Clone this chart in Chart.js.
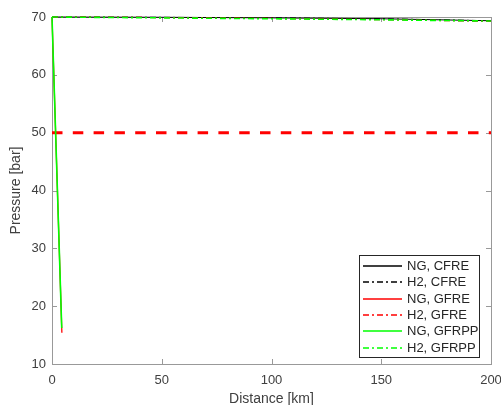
<!DOCTYPE html>
<html>
<head>
<meta charset="utf-8">
<script src="https://cdn.jsdelivr.net/npm/chart.js@4"></script>
<style>
  html,body{margin:0;padding:0;background:#fff;}
  #wrap{position:relative;width:501px;height:405px;}
</style>
</head>
<body>
<div id="wrap"><canvas id="c" width="501" height="405"></canvas></div>
<script>
/* Pressure along the pipeline for NG / H2 under three refuelling schemes */

// distance samples [km]
var distFull=[0,50,100,150,200];
var distNgGfre=[0,4.5];
var distNgGfrpp=[0,4.43];

// pressure [bar]
var pNgCfre=[70,69.95,69.85,69.7,69.35];
var pH2Cfre=[70,69.95,69.85,69.7,69.35];
var pNgGfre=[70,15.4];
var pH2Gfre=[70,69.9,69.75,69.55,69.25];
var pNgGfrpp=[70,16.2];
var pH2Gfrpp=[70,69.85,69.7,69.52,69.3];

// minimum delivery pressure
var minDist=[0,200];
var minPressure=[50,50];

var xTicks=[0,50,100,150,200];
var yTicks=[10,20,30,40,50,60,70];

var SERIES=[
  {label:'NG, CFRE',  x:distFull,   y:pNgCfre,  color:'#000000',dash:[],        w:1},
  {label:'H2, CFRE',  x:distFull,   y:pH2Cfre,  color:'#000000',dash:[6,3,2,3], w:1},
  {label:'NG, GFRE',  x:distNgGfre, y:pNgGfre,  color:'#ff0000',dash:[],        w:1.3},
  {label:'H2, GFRE',  x:distFull,   y:pH2Gfre,  color:'#ff0000',dash:[6,3,2,3], w:1.2},
  {label:'NG, GFRPP', x:distNgGfrpp,y:pNgGfrpp, color:'#00ff00',dash:[],        w:1.6},
  {label:'H2, GFRPP', x:distFull,   y:pH2Gfrpp, color:'#00ff00',dash:[6,3,2,3], w:1.6}
];

function pts(xs,ys){ return xs.map(function(x,i){ return {x:x,y:ys[i]}; }); }

var datasets=SERIES.map(function(s,i){
  return {
    label:s.label,
    data:pts(s.x,s.y),
    borderColor:s.color,
    borderWidth:s.w,
    borderDash:s.dash,
    pointRadius:0,
    fill:false,
    tension:0,
    clip:4,
    order:SERIES.length-i   // later series on top
  };
});
datasets.push({
  label:'min',
  data:pts(minDist,minPressure),
  borderColor:'#ff0000',
  borderWidth:3,
  borderDash:[10.5,10.3],
  pointRadius:0,
  fill:false,
  clip:4,
  order:20
});

var AXIS='#999999', TXT='#404040';
var FONT='"Liberation Sans", Arial, Helvetica, sans-serif';

// box + inward ticks on all four sides
var frame={
  id:'frame',
  beforeDatasetsDraw:function(chart){
    var a=chart.chartArea, ctx=chart.ctx, xs=chart.scales.x, ys=chart.scales.y, tl=5;
    ctx.save();
    ctx.strokeStyle=AXIS; ctx.lineWidth=1;
    ctx.strokeRect(Math.round(a.left)+0.5,Math.round(a.top)+0.5,Math.round(a.right-a.left),Math.round(a.bottom-a.top));
    ctx.beginPath();
    xTicks.forEach(function(v){
      var px=Math.round(xs.getPixelForValue(v))+0.5;
      ctx.moveTo(px,a.bottom); ctx.lineTo(px,a.bottom-tl);
      ctx.moveTo(px,a.top); ctx.lineTo(px,a.top+tl);
    });
    yTicks.forEach(function(v){
      var py=Math.round(ys.getPixelForValue(v))+0.5;
      ctx.moveTo(a.left,py); ctx.lineTo(a.left+tl,py);
      ctx.moveTo(a.right,py); ctx.lineTo(a.right-tl,py);
    });
    ctx.stroke();
    ctx.restore();
  }
};

// legend box in the lower right of the plot
var boxLegend={
  id:'boxLegend',
  afterDatasetsDraw:function(chart){
    var ctx=chart.ctx, x0=359.5, y0=255.5, w=120, h=102, row=16.4, first=265.7;
    ctx.save();
    ctx.fillStyle='#fff';
    ctx.fillRect(x0,y0,w,h);
    ctx.strokeStyle='#262626'; ctx.lineWidth=1;
    ctx.strokeRect(x0,y0,w,h);
    ctx.font='13px '+FONT;
    ctx.textBaseline='middle';
    SERIES.forEach(function(s,i){
      var y=Math.round(first+i*row);
      ctx.strokeStyle=s.color;
      ctx.lineWidth=1.5;
      ctx.setLineDash(s.dash);
      ctx.beginPath(); ctx.moveTo(363,y); ctx.lineTo(402,y); ctx.stroke();
      ctx.setLineDash([]);
      ctx.fillStyle='#262626';
      ctx.fillText(s.label,407,y+0.5);
    });
    ctx.restore();
  }
};

new Chart(document.getElementById('c'),{
  type:'line',
  data:{datasets:datasets},
  options:{
    responsive:false,
    animation:false,
    layout:{padding:{left:0,right:10,top:17,bottom:0}},
    plugins:{legend:{display:false},tooltip:{enabled:false}},
    scales:{
      x:{
        type:'linear',min:0,max:200,
        border:{display:false},
        grid:{display:false,drawTicks:false},
        afterBuildTicks:function(s){ s.ticks=xTicks.map(function(v){return {value:v};}); },
        ticks:{color:TXT,font:{size:13,family:FONT},padding:9,maxRotation:0},
        title:{display:true,text:'Distance [km]',color:TXT,font:{size:14,family:FONT},padding:{top:0,bottom:-3}},
        afterFit:function(s){ s.height=41; s.paddingRight=0; s.paddingLeft=0; }
      },
      y:{
        min:10,max:70,
        border:{display:false},
        grid:{display:false,drawTicks:false},
        afterBuildTicks:function(s){ s.ticks=yTicks.map(function(v){return {value:v};}); },
        ticks:{color:TXT,font:{size:13,family:FONT},padding:6},
        title:{display:true,text:'Pressure [bar]',color:TXT,font:{size:14,family:FONT},padding:{top:8,bottom:0}},
        afterFit:function(s){ s.width=52; s.paddingTop=0; s.paddingBottom=0; }
      }
    }
  },
  plugins:[frame,boxLegend]
});
</script>
</body>
</html>
